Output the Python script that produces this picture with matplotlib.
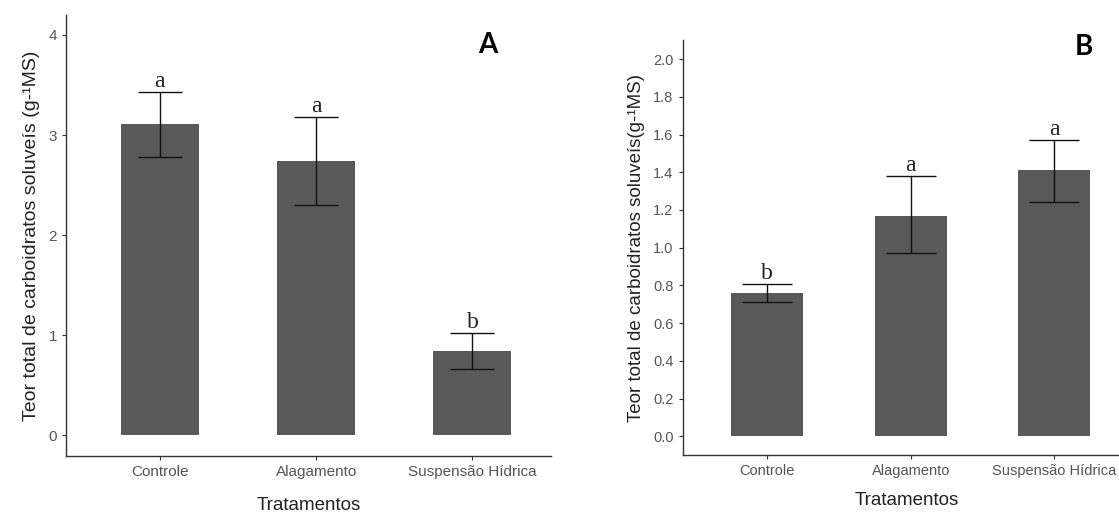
import matplotlib.pyplot as plt

# --- dados ---
tratamentos = ["Controle", "Alagamento", "Suspensão Hídrica"]

media_a = [3.11, 2.74, 0.84]
sup_a = [3.43, 3.18, 1.02]
inf_a = [2.78, 2.30, 0.66]
letras_a = ["a", "a", "b"]

media_b = [0.76, 1.17, 1.41]
sup_b = [0.81, 1.38, 1.57]
inf_b = [0.71, 0.97, 1.24]
letras_b = ["b", "a", "a"]

cor_barra = "#595959"
cor_texto = "#555555"
fonte = ["Liberation Sans", "DejaVu Sans"]


def painel(ax, media, sup, inf, letras, ylim, yticks, yfmt, ylabel, cap, tam, pad_x):
    x = list(range(1, len(media) + 1))
    ax.bar(x, media, width=0.5, color=cor_barra, zorder=1)
    erro = [[m - i for m, i in zip(media, inf)], [s - m for s, m in zip(sup, media)]]
    ax.errorbar(x, media, yerr=erro, fmt="none", ecolor="#111111",
                elinewidth=1.0, capsize=cap, capthick=1.0, zorder=2)
    for xi, s, l in zip(x, sup, letras):
        ax.text(xi, s, l, ha="center", va="bottom", fontsize=17,
                family="Liberation Serif", color="#222222")

    ax.set_xlim(0.4, 3.5)
    ax.set_ylim(*ylim)
    ax.set_xticks(x)
    ax.set_xticklabels(tratamentos, fontsize=tam, color=cor_texto, family=fonte)
    ax.set_yticks(yticks)
    ax.set_yticklabels([yfmt.format(v) for v in yticks], fontsize=tam,
                       color=cor_texto, family=fonte)
    ax.tick_params(length=3, width=0.8, colors="#333333", labelcolor=cor_texto)
    for lado in ["top", "right"]:
        ax.spines[lado].set_visible(False)
    for lado in ["left", "bottom"]:
        ax.spines[lado].set_color("#333333")
        ax.spines[lado].set_linewidth(1.0)
    ax.set_xlabel("Tratamentos", fontsize=13.5, color="#222222", labelpad=pad_x, family=fonte)
    ax.set_ylabel(ylabel, fontsize=tam + 3, color="#222222", labelpad=6, family=fonte)


fig = plt.figure(figsize=(11.19, 5.15), dpi=100)

ax1 = fig.add_axes([0.059, 0.114, 0.433, 0.857])
painel(ax1, media_a, sup_a, inf_a, letras_a, (-0.21, 4.2), [0, 1, 2, 3, 4], "{:.0f}",
       "Teor total de carboidratos soluveís (g-¹MS)", 16, 11, 13)
ax1.text(0.87, 0.932, "A", transform=ax1.transAxes, fontsize=20,
         fontweight="bold", family="Lato", ha="center", va="center")

ax2 = fig.add_axes([0.610, 0.116, 0.40, 0.806])
painel(ax2, media_b, sup_b, inf_b, letras_b, (-0.10, 2.1),
       [0.0, 0.2, 0.4, 0.6, 0.8, 1.0, 1.2, 1.4, 1.6, 1.8, 2.0], "{:.1f}",
       "Teor total de carboidratos soluveís(g-¹MS)", 18, 10.5, 10)
ax2.set_xlim(0.41, 3.53)
ax2.text(0.897, 0.983, "B", transform=ax2.transAxes, fontsize=20,
         fontweight="bold", family="Lato", ha="center", va="center")

fig.savefig("out.png", dpi=100)
